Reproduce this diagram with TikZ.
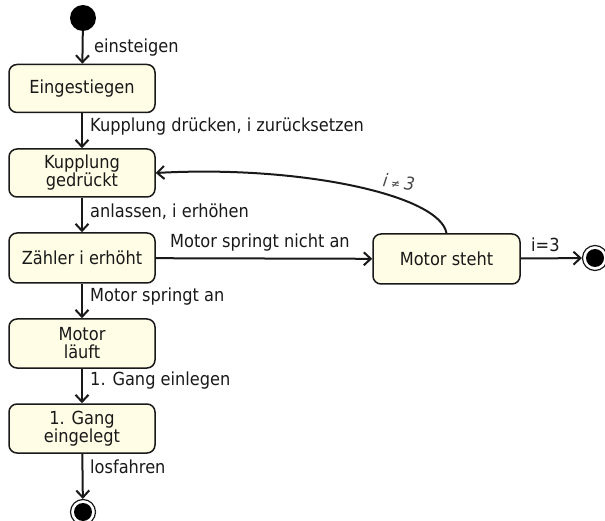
\documentclass[tikz,border=0pt]{standalone}
\usepackage{fontspec}
\setmainfont{DejaVu Sans}[FakeStretch=0.9]
\usetikzlibrary{arrows.meta}
\definecolor{statefill}{RGB}{255,253,229}
\definecolor{ink}{RGB}{25,25,25}
\begin{document}
\begin{tikzpicture}[x=1pt,y=-1pt,
  font=\fontsize{18}{21}\selectfont,
  state/.style={draw=ink, line width=1.5pt, rounded corners=8pt, fill=statefill,
    minimum width=146pt, minimum height=48pt, align=center, inner sep=2pt, text=ink},
  trans/.style={draw=ink, line width=2pt, -{Straight Barb[length=7pt,width=13pt,line width=2pt]}},
  lbl/.style={anchor=west, text=ink, inner sep=0pt},
  startdot/.style={circle, fill=black, minimum size=26pt, inner sep=0pt},
  enddot/.style={circle, fill=black, minimum size=18pt, inner sep=0pt},
  endring/.style={circle, draw=ink, line width=1.2pt, fill=white, minimum size=25pt, inner sep=0pt}]
\useasboundingbox (0,0) rectangle (605,521);

% states
\node[startdot] (init) at (83,18) {};
\node[state] (eing) at (82,88.5) {Eingestiegen};
\node[state] (kupp) at (82,173) {Kupplung\\[-3pt]gedrückt};
\node[state, minimum height=50pt] (zaehl) at (82,258) {Zähler i erhöht};
\node[state, minimum height=49pt] (lauft) at (82,343.5) {Motor\\[-3pt]läuft};
\node[state, minimum height=49pt] (gang) at (82,428.5) {1. Gang\\[-3pt]eingelegt};
\node[state, minimum width=147pt, minimum height=50pt] (steht) at (446.5,259) {Motor steht};

% final states
\node[endring] (fin1r) at (83,512) {};
\node[enddot] (fin1) at (83,512) {};
\node[endring] (fin2r) at (595,258) {};
\node[enddot] (fin2) at (595,258) {};

% transitions down the main chain
\draw[trans] (init) -- (eing);
\draw[trans] (eing) -- (kupp);
\draw[trans] (kupp) -- (zaehl);
\draw[trans] (zaehl) -- (lauft);
\draw[trans] (lauft) -- (gang);
\draw[trans] (gang) -- (fin1r);

% side branch
\draw[trans] (zaehl) -- (steht);
\draw[trans] (steht) -- (fin2r);
\draw[trans] (steht.north) .. controls (440,195) and (300,165) .. (kupp.east);

% transition labels
\node[lbl] (l1) at (94,48) {einsteigen};
\node[lbl] (l2) at (90,127) {Kupplung drücken, i zurücksetzen};
\node[lbl] (l3) at (90,212) {anlassen, i erhöhen};
\node[lbl] (l4) at (90,297) {Motor springt an};
\node[lbl] (l5) at (90,381) {1. Gang einlegen};
\node[lbl] (l6) at (90,467) {losfahren};
\node[lbl] (l7) at (170,243) {Motor springt nicht an};
\node[lbl] (l8) at (531,245) {i=3};
\node[lbl, rotate=-8, text=ink!80] (l9) at (383,180) {\itshape i\hspace{4pt}{\fontsize{12}{12}\selectfont ≠}\hspace{4pt}3};
\end{tikzpicture}
\end{document}
